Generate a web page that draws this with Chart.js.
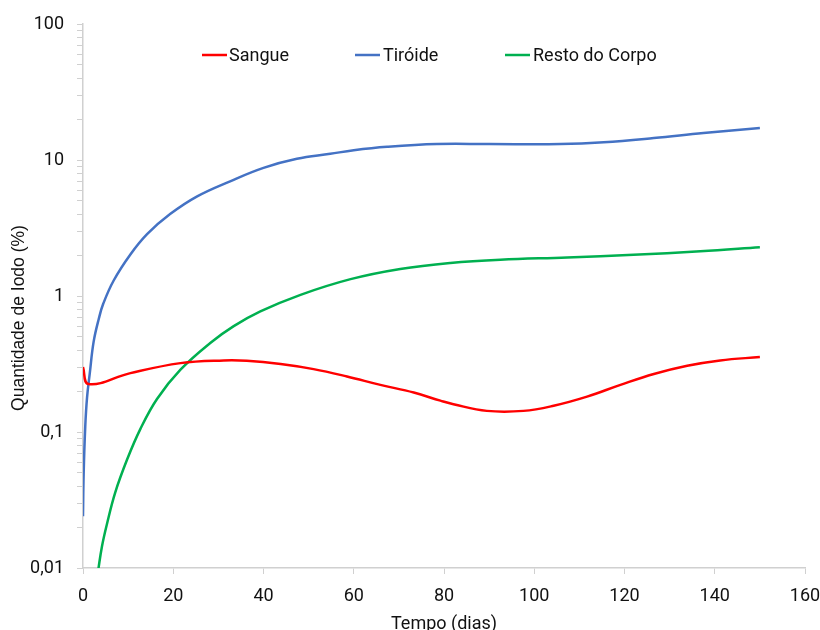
<!DOCTYPE html>
<html>
<head>
<meta charset="utf-8">
<script src="https://cdn.jsdelivr.net/npm/chart.js@4.4.1/dist/chart.umd.min.js"></script>
<style>
  html, body { margin: 0; padding: 0; background: #ffffff; }
  #wrap { width: 820px; height: 630px; }
</style>
</head>
<body>
<div id="wrap"><canvas id="c" width="820" height="630"></canvas></div>
<script>
// ---- data ----
const sangueDias    = [0, 1.25, 10.5, 21.6, 31.2, 36.3, 43.8, 51.1, 58.5, 65.9, 73.3, 79.2, 82.1, 89.5, 97.6, 104.3, 111.7, 119.1, 126.5, 133.9, 141.2, 150];
const sangueValores = [0.30, 0.225, 0.271, 0.321, 0.336, 0.334, 0.316, 0.29, 0.256, 0.222, 0.195, 0.170, 0.160, 0.143, 0.143, 0.156, 0.182, 0.222, 0.267, 0.307, 0.336, 0.356];

const tiroideDias    = [0, 0.15, 0.5, 0.9, 1.5, 2.35, 3.5, 4.5, 6.8, 10.5, 14.2, 19.3, 25.3, 32.6, 40, 47.4, 54.8, 60, 67.4, 78.4, 90, 105.8, 115.4, 126.5, 137.5, 150];
const tiroideValores = [0.024, 0.05, 0.11, 0.18, 0.27, 0.46, 0.68, 0.88, 1.30, 2.02, 2.85, 4.0, 5.4, 6.97, 8.75, 10.2, 11.1, 11.8, 12.5, 13.1, 13.1, 13.1, 13.5, 14.5, 15.8, 17.2];

const restoDias    = [3.3, 4.2, 5.3, 7.15, 9.75, 12.7, 16.4, 21.6, 28.2, 33.4, 39.3, 48.2, 59.3, 70.3, 81.4, 92.5, 107.3, 122, 136.8, 150];
const restoValores = [0.0093, 0.0144, 0.021, 0.036, 0.0625, 0.105, 0.175, 0.287, 0.451, 0.60, 0.77, 1.02, 1.33, 1.58, 1.75, 1.85, 1.92, 2.01, 2.13, 2.28];

const serieNomes = ['Sangue', 'Tiróide', 'Resto do Corpo'];
const serieCores = ['#FF0000', '#4472C4', '#00B050'];

const xTicks = [0, 20, 40, 60, 80, 100, 120, 140, 160];
const yMajorValores = [0.01, 0.1, 1, 10, 100];
const yMajorRotulos = ['0,01', '0,1', '1', '10', '100'];
const yMinorMult = [2, 3, 4, 5, 6, 7, 8, 9];

const xTitulo = 'Tempo (dias)';
const yTitulo = 'Quantidade de Iodo (%)';

// ---- build ----
function pts(xs, ys) { return xs.map((x, i) => ({ x: x, y: ys[i] })); }

const yTickValores = [];
yMajorValores.forEach((d, i) => {
  yTickValores.push(d);
  if (i < yMajorValores.length - 1) yMinorMult.forEach(m => yTickValores.push(+(d * m).toPrecision(3)));
});

const seriesData = [pts(sangueDias, sangueValores), pts(tiroideDias, tiroideValores), pts(restoDias, restoValores)];

const legendPlugin = {
  id: 'customLegend',
  afterDraw(chart) {
    const ctx = chart.ctx;
    const items = [
      { lx: 202, tx: 229 },
      { lx: 355, tx: 383 },
      { lx: 505, tx: 533 }
    ];
    const y = 55;
    ctx.save();
    ctx.font = '18px Roboto';
    ctx.textBaseline = 'middle';
    ctx.textAlign = 'left';
    items.forEach((it, i) => {
      ctx.strokeStyle = serieCores[i];
      ctx.lineWidth = 2.5;
      ctx.beginPath();
      ctx.moveTo(it.lx, y);
      ctx.lineTo(it.lx + 25, y);
      ctx.stroke();
      ctx.fillStyle = '#111';
      ctx.fillText(serieNomes[i], it.tx, y + 1);
    });
    // vertical axis title
    ctx.translate(19, 318);
    ctx.rotate(-Math.PI / 2);
    ctx.font = '17.5px "Liberation Sans"';
    ctx.textAlign = 'center';
    ctx.fillStyle = '#111';
    ctx.fillText(yTitulo, 0, 0);
    ctx.restore();
  }
};

new Chart(document.getElementById('c'), {
  type: 'line',
  data: {
    datasets: seriesData.map((d, i) => ({
      label: serieNomes[i],
      data: d,
      borderColor: serieCores[i],
      backgroundColor: serieCores[i],
      borderWidth: 2.5,
      pointRadius: 0,
      tension: 0.4,
      fill: false
    }))
  },
  options: {
    responsive: false,
    animation: false,
    devicePixelRatio: 1,
    layout: { padding: { top: 24, right: 15, left: 0, bottom: 0 } },
    plugins: { legend: { display: false }, tooltip: { enabled: false } },
    scales: {
      x: {
        type: 'linear',
        min: 0, max: 160,
        afterBuildTicks: s => { s.ticks = xTicks.map(v => ({ value: v })); },
        afterFit: s => { s.height = 62; s.paddingLeft = 0; s.paddingRight = 0; },
        grid: { drawOnChartArea: false, tickLength: 6, color: '#D0D0D0', lineWidth: 1 },
        border: { color: '#D0D0D0', width: 1.5 },
        ticks: { font: { family: 'Roboto', size: 18 }, color: '#111', padding: 12, maxRotation: 0 },
        title: { display: true, text: xTitulo, font: { family: 'Roboto', size: 18, lineHeight: 1 }, color: '#111', padding: { top: 0, bottom: -3 } }
      },
      y: {
        type: 'logarithmic',
        min: 0.01, max: 100,
        afterBuildTicks: s => { s.ticks = yTickValores.map(v => ({ value: v })); },
        afterFit: s => { s.width = 83; s.paddingTop = 0; s.paddingBottom = 0; },
        grid: { drawOnChartArea: false, tickLength: 6, color: '#D0D0D0', lineWidth: 1 },
        border: { color: '#D0D0D0', width: 1.5 },
        ticks: {
          autoSkip: false,
          font: { family: 'Roboto', size: 18 },
          color: '#111',
          padding: 13,
          callback: (v) => {
            const k = yMajorValores.findIndex(m => Math.abs(m - v) / m < 1e-6);
            return k >= 0 ? yMajorRotulos[k] : '';
          }
        },
        title: { display: false }
      }
    }
  },
  plugins: [legendPlugin]
});
</script>
</body>
</html>
